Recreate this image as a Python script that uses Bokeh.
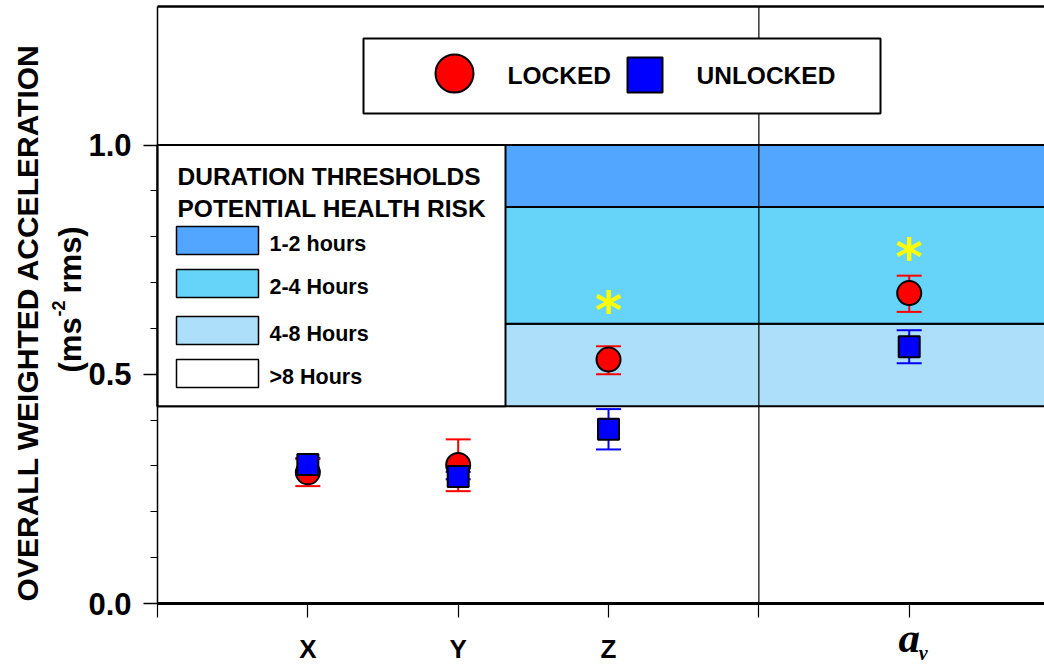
import math
from bokeh.plotting import figure
from bokeh.models import Range1d, FixedTicker, Label, PrintfTickFormatter
from bokeh.core.properties import value
from bokeh.embed import file_html
from bokeh.resources import INLINE

# ---------------- data ----------------
categories = ["X", "Y", "Z", "a_v"]
cat_pos = [1, 2, 3, 5]
divider_pos = 4

locked_mean = [0.286, 0.302, 0.532, 0.677]
locked_upper = [0.315, 0.358, 0.561, 0.715]
locked_lower = [0.256, 0.245, 0.500, 0.636]

unlocked_mean = [0.303, 0.277, 0.380, 0.560]
unlocked_upper = [0.317, 0.287, 0.424, 0.596]
unlocked_lower = [0.288, 0.271, 0.336, 0.524]

sig_pos = [3, 5]
sig_level = [0.650, 0.766]

band_lower = [0.43, 0.61, 0.865]
band_upper = [0.61, 0.865, 1.0]
band_colors = ["#ADDFFA", "#66D4F8", "#52A6FF"]
band_labels = ["4-8 Hours", "2-4 Hours", "1-2 hours"]

legend_labels = ["LOCKED", "UNLOCKED"]
y_ticks = [0.0, 0.5, 1.0]
x_ticks = [0, 1, 2, 3, 4, 5]

# ---------------- layout helpers (page px -> data) ----------------
W, H = 1044, 665
OX, SXP = 157.0, 150.34   # x pixel of data 0, px per unit
OY, SYP = 603.0, 458.5    # y pixel of data 0, px per unit


def dx(px):
    return (px - OX) / SXP


def dy(py):
    return (OY - py) / SYP


def pxw(w):
    return w / SXP


FONT = "Liberation Sans"

p = figure(width=W, height=H, x_range=Range1d(dx(0), dx(W)), y_range=Range1d(dy(H), dy(0)),
           output_backend="svg", toolbar_location=None,
           min_border_left=0, min_border_right=0, min_border_top=0, min_border_bottom=0)
p.outline_line_color = None
p.grid.visible = False
p.background_fill_color = "white"
p.border_fill_color = "white"

TOP = dy(6)
RIGHT = dx(W + 2)

# y axis (drawn at x = 0)
p.yaxis.fixed_location = 0
p.yaxis.bounds = (0, TOP)
p.yaxis.ticker = FixedTicker(ticks=y_ticks, minor_ticks=[i / 10 for i in range(0, 11)])
p.yaxis.formatter = PrintfTickFormatter(format="%.1f")
p.yaxis.major_tick_out = 14
p.yaxis.major_tick_in = 0
p.yaxis.minor_tick_out = 7
p.yaxis.minor_tick_in = 0
p.yaxis.axis_line_width = 1.5
p.yaxis.axis_line_color = "black"
p.yaxis.major_tick_line_width = 1.5
p.yaxis.minor_tick_line_width = 1.2
p.yaxis.major_tick_line_color = "black"
p.yaxis.minor_tick_line_color = "black"
p.yaxis.major_label_text_font = FONT
p.yaxis.major_label_text_font_style = "bold"
p.yaxis.major_label_text_font_size = "31px"
p.yaxis.major_label_text_color = "black"
p.yaxis.major_label_standoff = 12

# x axis (drawn at y = 0)
overrides = {0: "", 4: "", 5: ""}
for c, xpos in zip(categories[:3], cat_pos[:3]):
    overrides[xpos] = c
p.xaxis.fixed_location = 0
p.xaxis.bounds = (0, RIGHT)
p.xaxis.ticker = FixedTicker(ticks=x_ticks, minor_ticks=[])
p.xaxis.major_label_overrides = overrides
p.xaxis.axis_line_width = 3
p.xaxis.axis_line_color = "black"
p.xaxis.major_tick_out = 14
p.xaxis.major_tick_in = 0
p.xaxis.major_tick_line_width = 1.2
p.xaxis.major_tick_line_color = "black"
p.xaxis.minor_tick_out = 0
p.xaxis.major_label_text_font = FONT
p.xaxis.major_label_text_font_style = "bold"
p.xaxis.major_label_text_font_size = "26px"
p.xaxis.major_label_text_color = "black"
p.xaxis.major_label_standoff = 16

# health-risk bands
p.quad(left=0, right=RIGHT, bottom=band_lower, top=band_upper,
       fill_color=band_colors, line_color="black", line_width=2)

# duration legend box
p.quad(left=[0], right=[dx(505)], bottom=[band_lower[0]], top=[band_upper[-1]],
       fill_color="white", line_color="black", line_width=2)

# divider and top frame line
p.segment(x0=[divider_pos], y0=[0], x1=[divider_pos], y1=[TOP], line_color="black", line_width=1.2)
p.segment(x0=[0], y0=[TOP], x1=[RIGHT], y1=[TOP], line_color="black", line_width=2.5)

# duration legend content
p.add_layout(Label(x=dx(177), y=dy(176), text="DURATION THRESHOLDS", text_font=FONT,
                   text_font_style="bold", text_font_size="24.5px", text_align="left",
                   text_baseline="middle", text_color="black"))
p.add_layout(Label(x=dx(177), y=dy(208), text="POTENTIAL HEALTH RISK", text_font=FONT,
                   text_font_style="bold", text_font_size="24.5px", text_align="left",
                   text_baseline="middle", text_color="black"))
sw_tops = [226, 269, 316, 359]
sw_fill = list(reversed(band_colors)) + ["white"]
sw_text = list(reversed(band_labels)) + [">8 Hours"]
p.quad(left=dx(176), right=dx(258), top=[dy(t) for t in sw_tops], bottom=[dy(t + 28) for t in sw_tops],
       fill_color=sw_fill, line_color="black", line_width=1.5)
for t, s in zip(sw_tops, sw_text):
    p.add_layout(Label(x=dx(269), y=dy(t + 17), text=s, text_font=FONT, text_font_style="bold",
                       text_font_size="21.5px", text_align="left", text_baseline="middle",
                       text_color="black"))

# top legend box
p.quad(left=[dx(363)], right=[dx(880)], bottom=[dy(113)], top=[dy(38)],
       fill_color="white", line_color="black", line_width=2)
p.scatter(x=[dx(454)], y=[dy(73)], marker="circle", size=38, fill_color="#FF0000",
          line_color="black", line_width=2)
p.scatter(x=[dx(644.5)], y=[dy(74.5)], marker="square", size=35, fill_color="#0000FF",
          line_color="black", line_width=2)
p.add_layout(Label(x=dx(507), y=dy(75), text=legend_labels[0], text_font=FONT, text_font_style="bold",
                   text_font_size="24.5px", text_align="left", text_baseline="middle", text_color="black"))
p.add_layout(Label(x=dx(696), y=dy(75), text=legend_labels[1], text_font=FONT, text_font_style="bold",
                   text_font_size="24.5px", text_align="left", text_baseline="middle", text_color="black"))

# error bars
cap = pxw(12.5)
for mean, up, lo, col in [(unlocked_mean, unlocked_upper, unlocked_lower, "#0000FF"),
                          (locked_mean, locked_upper, locked_lower, "#FF0000")]:
    p.segment(x0=cat_pos, y0=lo, x1=cat_pos, y1=up, line_color=col, line_width=2)
    p.segment(x0=[x - cap for x in cat_pos], y0=up, x1=[x + cap for x in cat_pos], y1=up,
              line_color=col, line_width=2)
    p.segment(x0=[x - cap for x in cat_pos], y0=lo, x1=[x + cap for x in cat_pos], y1=lo,
              line_color=col, line_width=2)

p.scatter(x=cat_pos, y=locked_mean, marker="circle", size=24, fill_color="#FF0000",
          line_color="black", line_width=2)
p.scatter(x=cat_pos, y=unlocked_mean, marker="square", size=21, fill_color="#0000FF",
          line_color="black", line_width=2)

# significance asterisks
p.text(x=sig_pos, y=sig_level, text=["*"] * len(sig_pos), text_font=value("DejaVu Sans"),
       text_font_style="bold", text_font_size="52px", text_color="#FFFF00",
       text_align="center", text_baseline="middle", y_offset=5)

# a_v tick label
p.add_layout(Label(x=cat_pos[3], y=dy(637), text="a", text_font="Liberation Serif",
                   text_font_style="bold italic", text_font_size="43px", text_align="center",
                   text_baseline="middle", text_color="black"))
p.add_layout(Label(x=cat_pos[3] + pxw(14), y=dy(652), text="v", text_font="Liberation Serif",
                   text_font_style="bold italic", text_font_size="20px", text_align="center",
                   text_baseline="middle", text_color="black"))

# y axis title (two lines)
p.add_layout(Label(x=dx(27), y=dy(322), text="OVERALL WEIGHTED ACCELERATION", angle=math.pi / 2,
                   text_font=FONT, text_font_style="bold", text_font_size="30px",
                   text_align="center", text_baseline="middle", text_color="black"))
p.add_layout(Label(x=dx(70), y=dy(372), text="(ms", angle=math.pi / 2,
                   text_font=FONT, text_font_style="bold", text_font_size="31px",
                   text_align="left", text_baseline="middle", text_color="black"))
p.add_layout(Label(x=dx(58), y=dy(316), text="-2", angle=math.pi / 2,
                   text_font=FONT, text_font_style="bold", text_font_size="18px",
                   text_align="left", text_baseline="middle", text_color="black"))
p.add_layout(Label(x=dx(70), y=dy(293), text="rms)", angle=math.pi / 2,
                   text_font=FONT, text_font_style="bold", text_font_size="31px",
                   text_align="left", text_baseline="middle", text_color="black"))

open("out.html", "w").write(file_html(p, INLINE))
